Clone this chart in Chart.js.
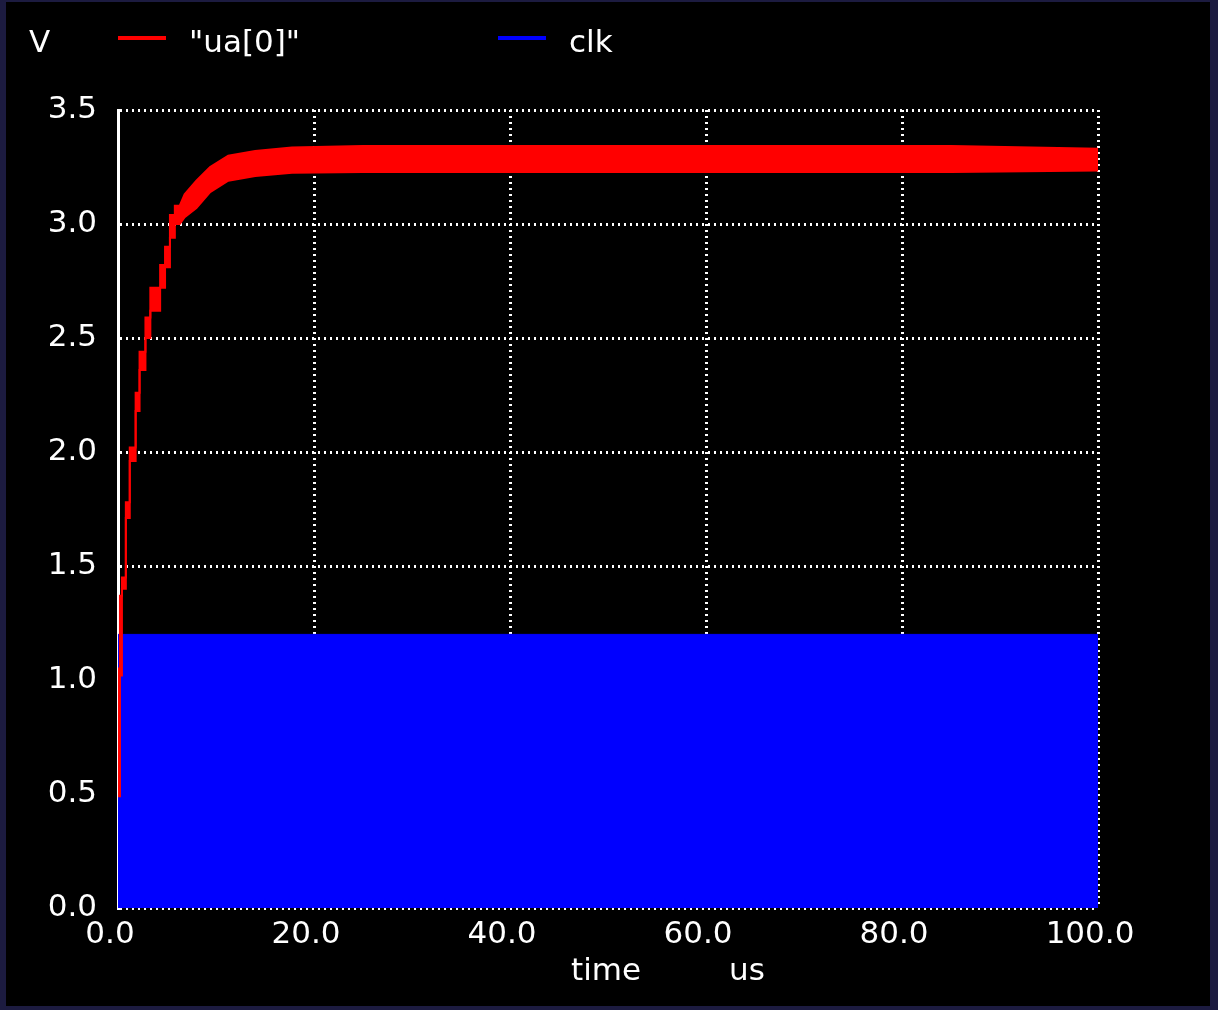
<!DOCTYPE html>
<html>
<head>
<meta charset="utf-8">
<title>ua[0] / clk</title>
<script src="https://cdn.jsdelivr.net/npm/chart.js@4.4.1/dist/chart.umd.min.js"></script>
<style>
  html, body { margin: 0; padding: 0; background: #1c1b40; }
  #wrap { position: relative; width: 1218px; height: 1010px; }
</style>
</head>
<body>
<div id="wrap"><canvas id="plot" width="1218" height="1010"></canvas></div>
<script>
// time in us; ua[0] ripple band (min / max in V).
// the first 6.3 us charge in visible steps, so those come in start/end pairs
const uaTime = [0, 0.2, 0.2, 0.4, 0.4, 0.8, 0.8, 1.2, 1.2, 1.8, 1.8, 2.2, 2.2, 2.8, 2.8, 3.3, 3.3, 4.3, 4.3, 4.8, 4.8, 5.3, 5.3, 5.8, 5.8, 6.3,
                6.8, 8.0, 9.4, 11.25, 14, 17.75, 25, 40, 55, 70, 85, 100];
const uaHigh = [1.05, 1.05, 1.37, 1.37, 1.45, 1.45, 1.78, 1.78, 2.02, 2.02, 2.26, 2.26, 2.44, 2.44, 2.59, 2.59, 2.72, 2.72, 2.82, 2.82, 2.90, 2.90, 3.04, 3.04, 3.08, 3.08,
                3.13, 3.19, 3.25, 3.30, 3.32, 3.335, 3.342, 3.342, 3.342, 3.342, 3.342, 3.33];
const uaLow = [0.49, 0.49, 1.02, 1.02, 1.40, 1.40, 1.71, 1.71, 1.96, 1.96, 2.18, 2.18, 2.36, 2.36, 2.50, 2.50, 2.62, 2.62, 2.72, 2.72, 2.81, 2.81, 2.94, 2.94, 3.00, 3.00,
               3.03, 3.07, 3.14, 3.19, 3.21, 3.225, 3.228, 3.228, 3.228, 3.228, 3.228, 3.235];

// clk toggles far faster than the plot resolves, so it shows as a solid block
const clkTime = [0, 100];
const clkHigh = [1.2, 1.2];

const xTicks = [0, 20, 40, 60, 80, 100];
const yTicks = [0, 0.5, 1.0, 1.5, 2.0, 2.5, 3.0, 3.5];

const FONT = '"DejaVu Sans", sans-serif';

function toPoints(xs, ys) {
    return xs.map((x, i) => ({ x: x, y: ys[i] }));
}

// dark frame + black plot window, like the ngspice X11 window
const framePlugin = {
    id: 'frame',
    beforeDraw(chart) {
        const ctx = chart.ctx;
        ctx.save();
        ctx.fillStyle = '#1c1b40';
        ctx.fillRect(0, 0, chart.width, chart.height);
        ctx.fillStyle = '#000000';
        ctx.fillRect(6, 2, chart.width - 14, chart.height - 6);
        ctx.restore();
    }
};

// unit label, legend and axis caption along the top / bottom
const labelsPlugin = {
    id: 'spiceLabels',
    afterDraw(chart) {
        const ctx = chart.ctx;
        ctx.save();
        ctx.font = '31px ' + FONT;
        ctx.fillStyle = '#ffffff';
        ctx.textBaseline = 'alphabetic';
        ctx.textAlign = 'left';
        ctx.fillText('V', 29, 52);

        const slots = [118, 498];
        let n = 0;
        chart.data.datasets.forEach(ds => {
            if (!ds.label) return;
            const x0 = slots[n++];
            ctx.strokeStyle = ds.borderColor;
            ctx.lineWidth = 4;
            ctx.beginPath();
            ctx.moveTo(x0, 38);
            ctx.lineTo(x0 + 48, 38);
            ctx.stroke();
            ctx.fillText(ds.label, x0 + 71, 52);
        });

        ctx.fillText('time', 571, 980);
        ctx.fillText('us', 729, 980);
        ctx.restore();
    }
};

new Chart(document.getElementById('plot'), {
    type: 'line',
    data: {
        datasets: [
            {
                label: '"ua[0]"',
                data: toPoints(uaTime, uaHigh),
                borderColor: '#ff0000',
                backgroundColor: '#ff0000',
                borderWidth: 2,
                fill: '+1'
            },
            {
                label: '',
                data: toPoints(uaTime, uaLow),
                borderColor: '#ff0000',
                backgroundColor: '#ff0000',
                borderWidth: 2,
                fill: false
            },
            {
                label: 'clk',
                data: toPoints(clkTime, clkHigh),
                borderColor: '#0000ff',
                backgroundColor: '#0000ff',
                borderWidth: 1,
                fill: 'origin'
            }
        ]
    },
    options: {
        responsive: false,
        animation: false,
        devicePixelRatio: 1,
        elements: { point: { radius: 0 }, line: { tension: 0 } },
        layout: { padding: { left: 0, top: 110, right: 120, bottom: 0 } },
        plugins: {
            legend: { display: false },
            tooltip: { enabled: false }
        },
        scales: {
            x: {
                type: 'linear',
                min: 0,
                max: 100,
                afterBuildTicks: s => { s.ticks = xTicks.map(v => ({ value: v })); },
                afterFit: s => { s.height = 102; },
                grid: { color: '#ffffff', lineWidth: 3, drawTicks: false },
                border: { display: false, dash: [2, 4] },
                ticks: {
                    color: '#ffffff',
                    font: { family: FONT, size: 31 },
                    padding: 8,
                    labelOffset: -8,
                    maxRotation: 0,
                    callback: v => v.toFixed(1)
                }
            },
            y: {
                min: 0,
                max: 3.5,
                afterBuildTicks: s => { s.ticks = yTicks.map(v => ({ value: v })); },
                afterFit: s => { s.width = 118; },
                grid: { color: '#ffffff', lineWidth: 3, drawTicks: false },
                border: { display: true, color: '#ffffff', width: 3, dash: [2, 4] },
                ticks: {
                    color: '#ffffff',
                    font: { family: FONT, size: 31 },
                    padding: 21,
                    callback: v => v.toFixed(1)
                }
            }
        }
    },
    plugins: [framePlugin, labelsPlugin]
});
</script>
</body>
</html>
